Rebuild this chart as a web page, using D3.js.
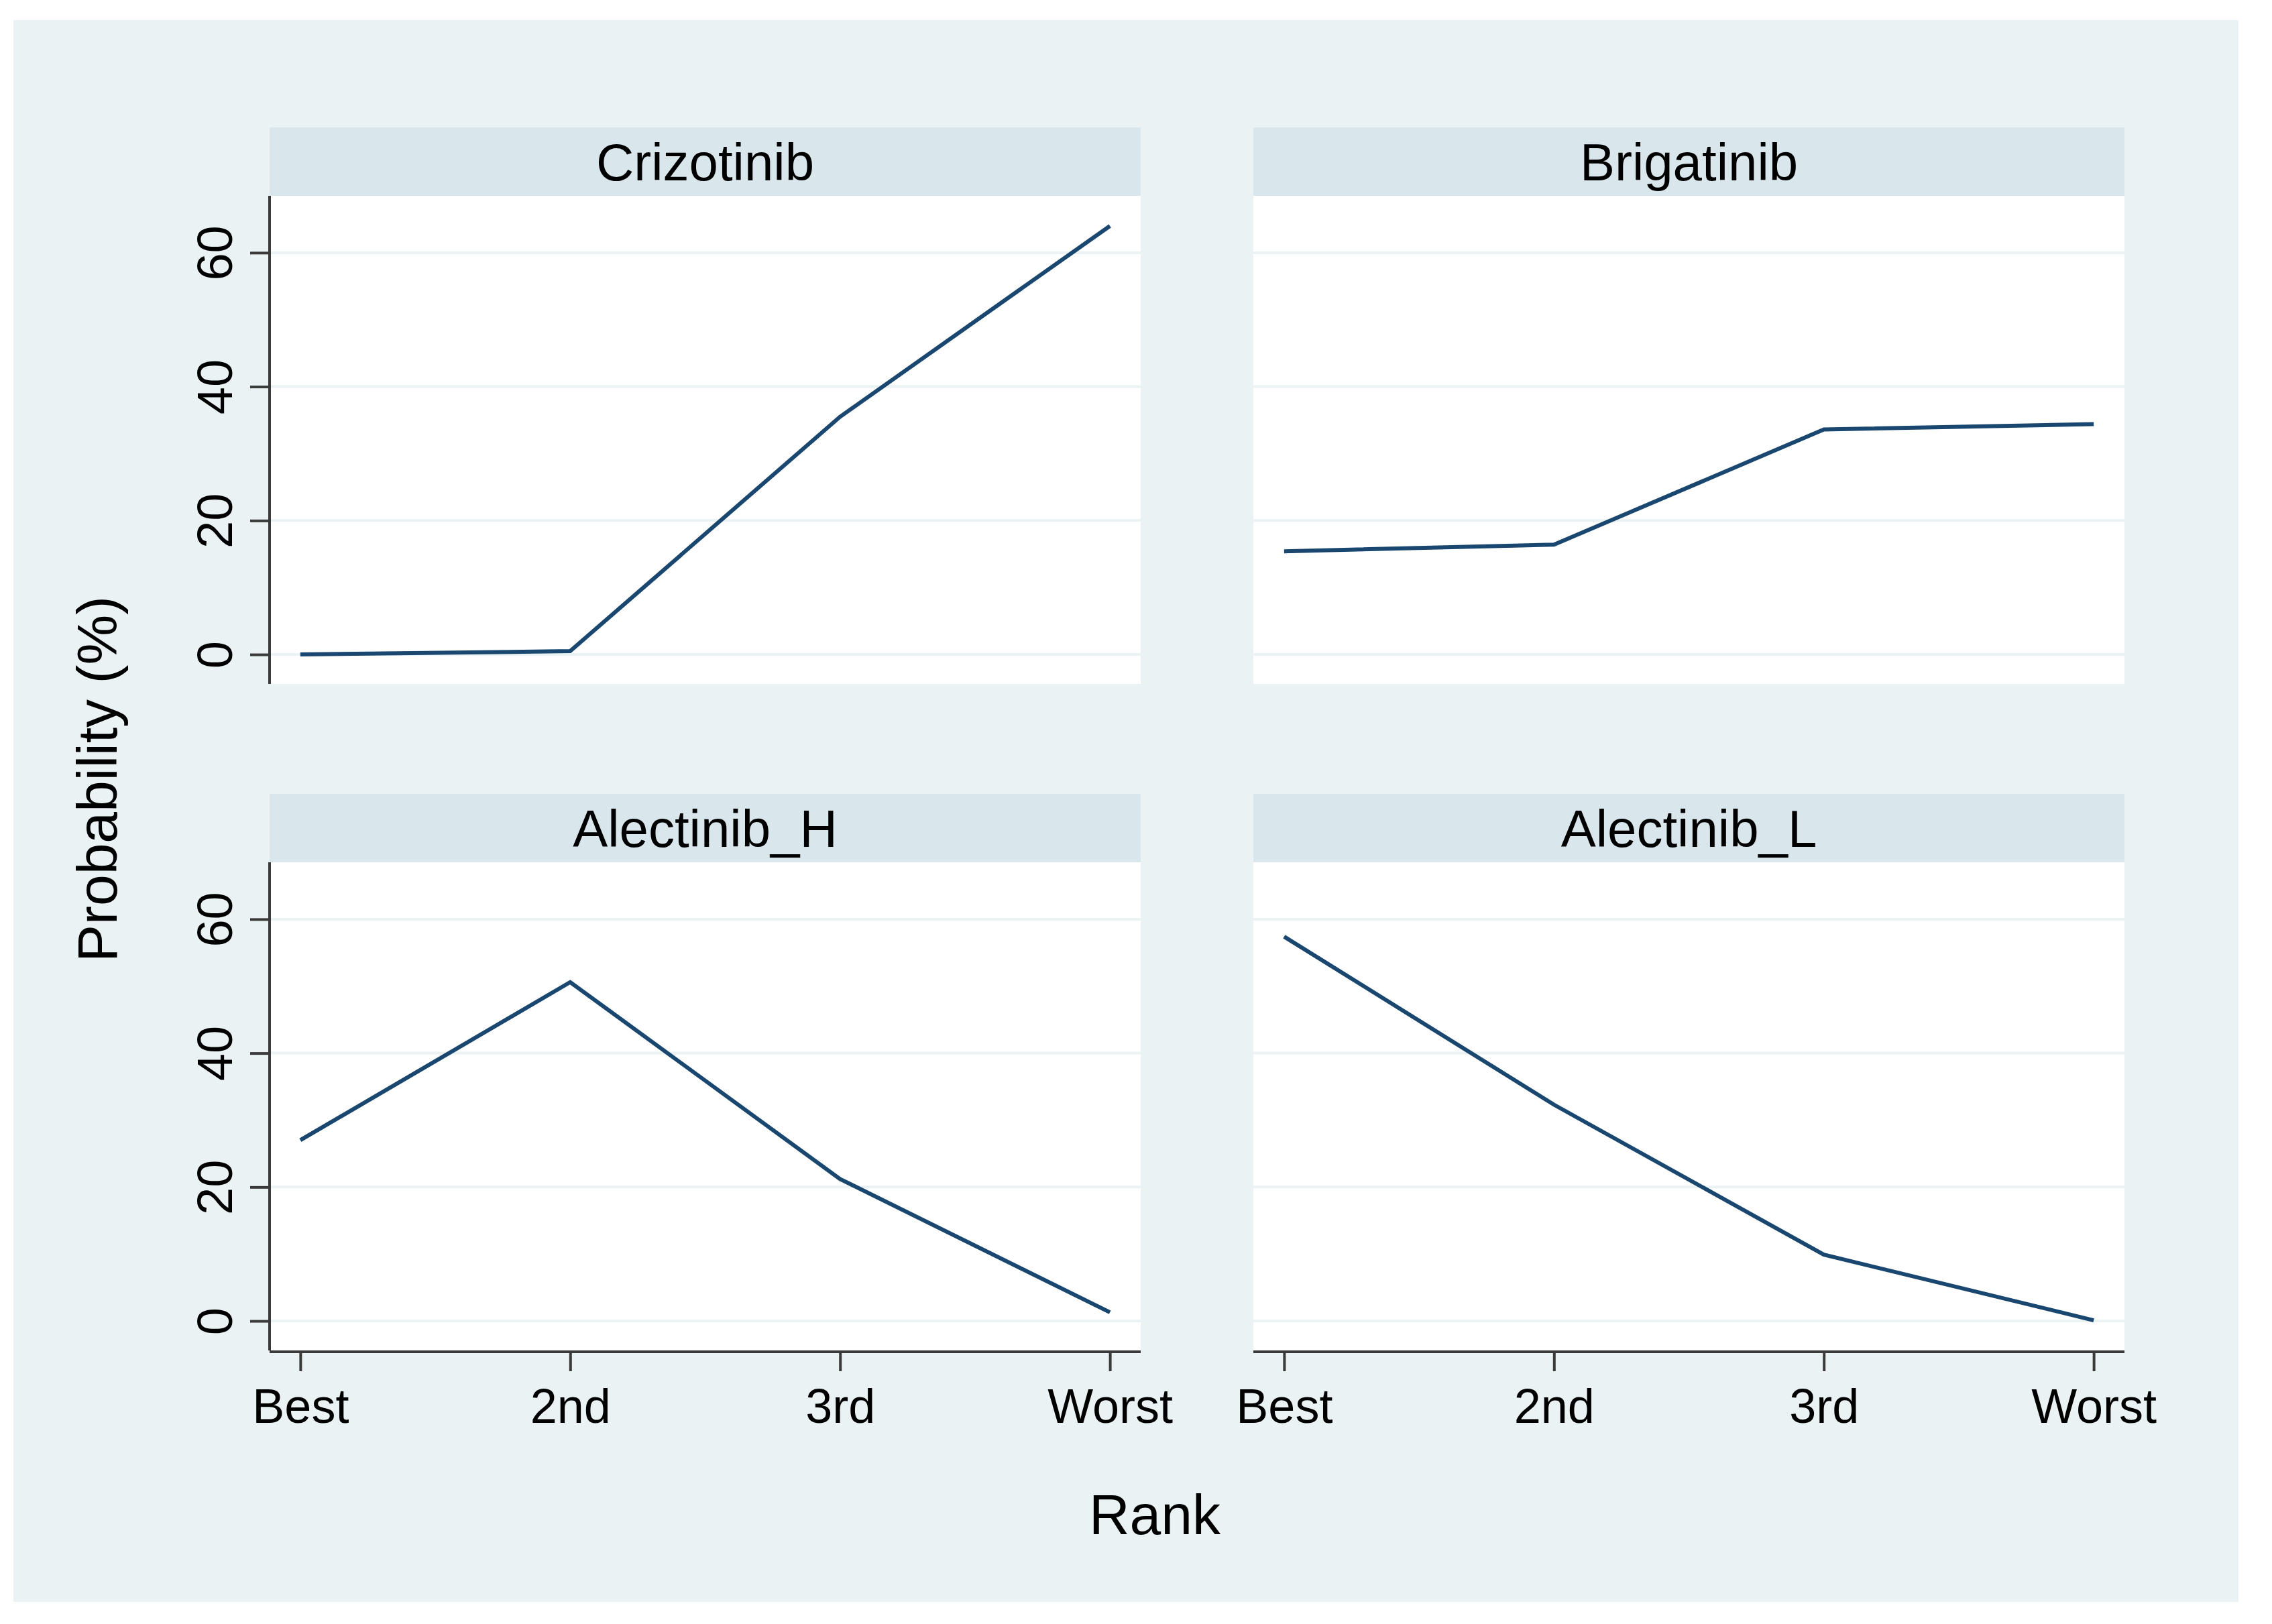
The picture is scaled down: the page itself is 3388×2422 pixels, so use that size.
<!DOCTYPE html>
<html>
<head>
<meta charset="utf-8">
<script src="https://cdn.jsdelivr.net/npm/d3@7"></script>
<style>
  body { margin: 0; background: #ffffff; }
</style>
</head>
<body>
<div id="chart"></div>
<script>
// rank categories on the x axis
var ranks = ["Best", "2nd", "3rd", "Worst"];
var yTicks = [0, 20, 40, 60];

// one small array per treatment, probability (%) by rank
var drugs = ["Crizotinib", "Brigatinib", "Alectinib_H", "Alectinib_L"];
var crizotinib = [0, 0.5, 35.5, 64.0];
var brigatinib = [15.4, 16.4, 33.6, 34.4];
var alectinibH = [27.0, 50.6, 21.2, 1.3];
var alectinibL = [57.4, 32.3, 9.9, 0.1];
var series = [crizotinib, brigatinib, alectinibH, alectinibL];

var W = 3388, H = 2422;
var font = "Liberation Sans, Arial, sans-serif";

var svg = d3.select("#chart").append("svg")
  .attr("width", W)
  .attr("height", H);

// outer graph region
svg.append("rect")
  .attr("x", 20).attr("y", 30)
  .attr("width", 3318).attr("height", 2359)
  .attr("fill", "#eaf2f3");

var panelW = 1299, plotH = 728, headH = 102;
var colX = [402, 1869];
var rowY = [190, 1184];

var x = d3.scaleLinear().domain([0.886, 4.114]).range([0, panelW]);
var y = d3.scaleLinear().domain([-4.4, 68.5]).range([plotH, 0]);

var line = d3.line()
  .x(function(d, i){ return x(i + 1); })
  .y(function(d){ return y(d); });

drugs.forEach(function(name, k){
  var col = k % 2, row = Math.floor(k / 2);
  var g = svg.append("g")
    .attr("transform", "translate(" + [colX[col], rowY[row]] + ")");

  // strip header
  g.append("rect")
    .attr("width", panelW).attr("height", headH)
    .attr("fill", "#d9e6eb");
  g.append("text")
    .attr("x", panelW / 2).attr("y", headH / 2 + 28)
    .attr("text-anchor", "middle")
    .attr("font-family", font)
    .attr("font-size", "78px")
    .attr("fill", "#000")
    .text(name);

  var p = g.append("g").attr("transform", "translate(0," + headH + ")");

  p.append("rect")
    .attr("width", panelW).attr("height", plotH)
    .attr("fill", "#ffffff");

  // gridlines
  p.selectAll(".grid").data(yTicks).enter().append("line")
    .attr("class", "grid")
    .attr("x1", 0).attr("x2", panelW)
    .attr("y1", function(d){ return y(d); })
    .attr("y2", function(d){ return y(d); })
    .attr("stroke", "#eaf2f3")
    .attr("stroke-width", 4);

  p.append("path")
    .datum(series[k])
    .attr("d", line)
    .attr("fill", "none")
    .attr("stroke", "#1a476f")
    .attr("stroke-width", 6)
    .attr("stroke-linejoin", "miter");

  if (col == 0) {
    var yAxis = d3.axisLeft(y).tickValues(yTicks).tickSize(29).tickPadding(22);
    var ya = p.append("g").call(yAxis);
    ya.select(".domain")
      .attr("d", "M0,0V" + plotH)
      .attr("stroke", "#3a3a3a").attr("stroke-width", 4);
    ya.selectAll(".tick line").attr("stroke", "#3a3a3a").attr("stroke-width", 4);
    ya.selectAll(".tick text")
      .attr("font-family", font)
      .attr("font-size", "74px")
      .attr("fill", "#000")
      .attr("transform", "rotate(-90)")
      .attr("x", 0).attr("y", -82)
      .attr("dy", "0")
      .attr("text-anchor", "middle")
      .attr("dominant-baseline", "central");
  }

  if (row == 1) {
    var xAxis = d3.axisBottom(x).tickValues([1, 2, 3, 4])
      .tickFormat(function(d){ return ranks[d - 1]; })
      .tickSize(29).tickPadding(26);
    var xa = p.append("g").attr("transform", "translate(0," + (plotH + 2) + ")").call(xAxis);
    xa.select(".domain")
      .attr("d", "M0,0H" + panelW)
      .attr("stroke", "#3a3a3a").attr("stroke-width", 4);
    xa.selectAll(".tick line").attr("stroke", "#3a3a3a").attr("stroke-width", 4);
    xa.selectAll(".tick text")
      .attr("font-family", font)
      .attr("font-size", "72px")
      .attr("fill", "#000");
  }
});

// axis titles
svg.append("text")
  .attr("x", 1722).attr("y", 2288)
  .attr("text-anchor", "middle")
  .attr("font-family", font)
  .attr("font-size", "84px")
  .attr("fill", "#000")
  .text("Rank");

svg.append("text")
  .attr("transform", "translate(174,1162)rotate(-90)")
  .attr("text-anchor", "middle")
  .attr("font-family", font)
  .attr("font-size", "84px")
  .attr("fill", "#000")
  .text("Probability (%)");
</script>
</body>
</html>
